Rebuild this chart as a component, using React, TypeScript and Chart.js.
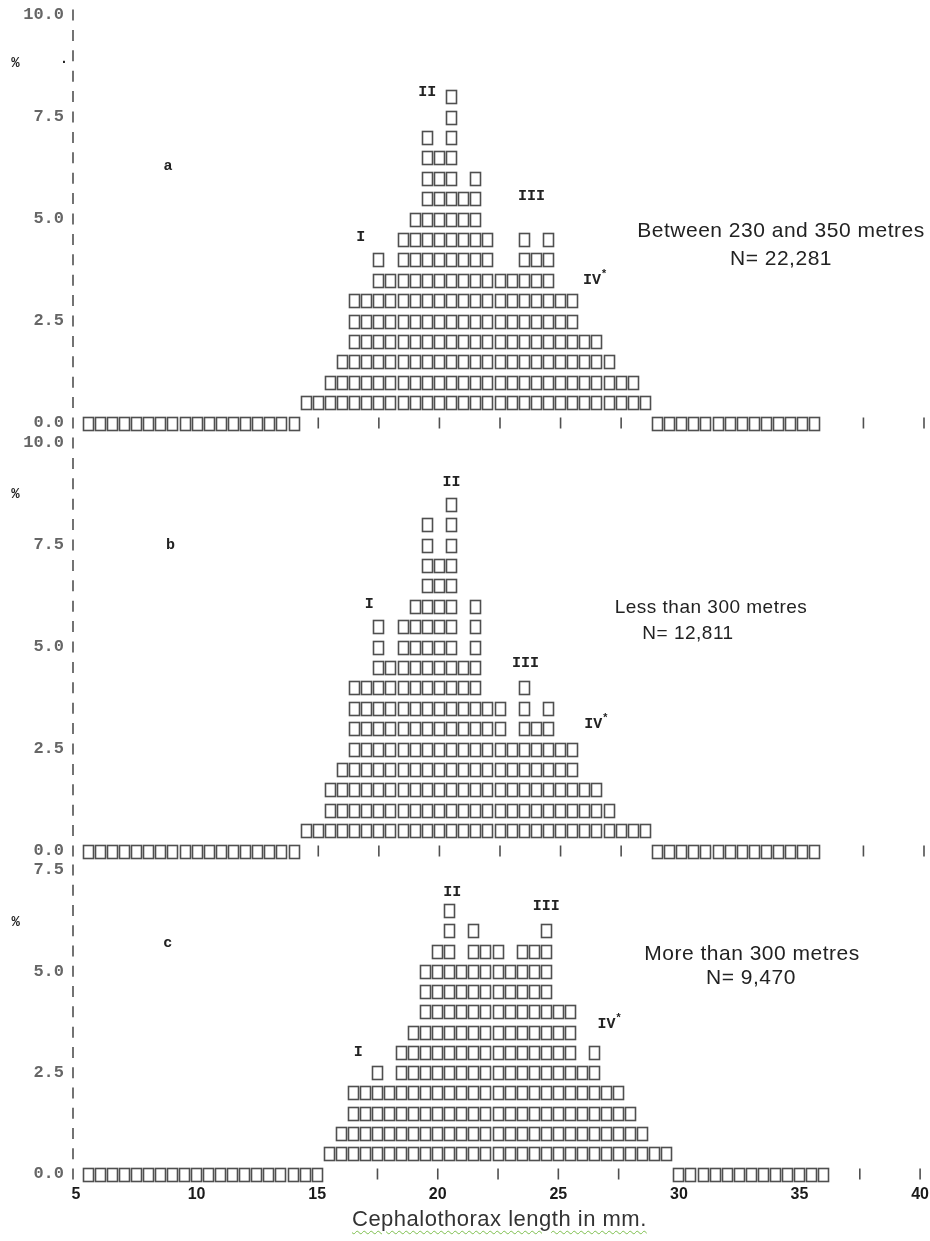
import React, { useEffect, useRef } from "react";
import { Chart, registerables } from "chart.js";

Chart.register(...registerables);

// Length classes (cephalothorax length, mm, class mid-points) and share of the sample (%)
const LENGTHS_A = [14.5, 15, 15.5, 16, 16.5, 17, 17.5, 18, 18.5, 19, 19.5, 20, 20.5, 21, 21.5, 22, 22.5, 23, 23.5, 24, 24.5, 25, 25.5, 26, 26.5, 27, 27.5, 28, 28.5];
const PERCENT_A = [0.5, 0.5, 1.0, 1.5, 3.0, 3.0, 4.0, 3.5, 4.5, 5.0, 7.0, 6.5, 8.0, 5.5, 6.0, 4.5, 3.5, 3.5, 4.5, 4.0, 4.5, 3.0, 3.0, 2.0, 2.0, 1.5, 1.0, 1.0, 0.5];
// classes present at less than one print step (shown on the base line)
const TRACE_A = [5.5, 6, 6.5, 7, 7.5, 8, 8.5, 9, 9.5, 10, 10.5, 11, 11.5, 12, 12.5, 13, 13.5, 14, 29, 29.5, 30, 30.5, 31, 31.5, 32, 32.5, 33, 33.5, 34, 34.5, 35, 35.5];

const LENGTHS_B = [14.5, 15, 15.5, 16, 16.5, 17, 17.5, 18, 18.5, 19, 19.5, 20, 20.5, 21, 21.5, 22, 22.5, 23, 23.5, 24, 24.5, 25, 25.5, 26, 26.5, 27, 27.5, 28, 28.5];
const PERCENT_B = [0.5, 0.5, 1.5, 2.0, 4.0, 4.0, 5.5, 4.5, 5.5, 6.0, 8.0, 7.0, 8.5, 4.5, 6.0, 3.5, 3.5, 2.5, 4.0, 3.0, 3.5, 2.5, 2.5, 1.5, 1.5, 1.0, 0.5, 0.5, 0.5];
const TRACE_B = [5.5, 6, 6.5, 7, 7.5, 8, 8.5, 9, 9.5, 10, 10.5, 11, 11.5, 12, 12.5, 13, 13.5, 14, 29, 29.5, 30, 30.5, 31, 31.5, 32, 32.5, 33, 33.5, 34, 34.5, 35, 35.5];

const LENGTHS_C = [15.5, 16, 16.5, 17, 17.5, 18, 18.5, 19, 19.5, 20, 20.5, 21, 21.5, 22, 22.5, 23, 23.5, 24, 24.5, 25, 25.5, 26, 26.5, 27, 27.5, 28, 28.5, 29, 29.5];
const PERCENT_C = [0.5, 1.0, 2.0, 2.0, 2.5, 2.0, 3.0, 3.5, 5.0, 5.5, 6.5, 5.0, 6.0, 5.5, 5.5, 5.0, 5.5, 5.5, 6.0, 4.0, 4.0, 2.5, 3.0, 2.0, 2.0, 1.5, 1.0, 0.5, 0.5];
const TRACE_C = [5.5, 6, 6.5, 7, 7.5, 8, 8.5, 9, 9.5, 10, 10.5, 11, 11.5, 12, 12.5, 13, 13.5, 14, 14.5, 15, 30, 30.5, 31, 31.5, 32, 32.5, 33, 33.5, 34, 34.5, 35, 35.5, 36];

// printed tick positions along the length axis
const LENGTH_TICKS = [5, 7.5, 10, 12.5, 15, 17.5, 20, 22.5, 25, 27.5, 30, 32.5, 35, 37.5, 40];

// one printed character per half percent
const STEP = 0.5;
const INK = "rgba(60,60,60,0.9)";
const MONO = '"Liberation Mono", "DejaVu Sans Mono", monospace';
const SANS = '"Liberation Sans", Arial, sans-serif';
const PAD = 25;

type Mark = { text: string; at: [number, number]; size?: number; sup?: string };

interface PanelSpec {
  key: string;
  top: number;
  height: number;
  padBottom: number;
  yMax: number;
  lengths: number[];
  percent: number[];
  trace: number[];
  marks: Mark[];
  showX: boolean;
}

const PANELS: PanelSpec[] = [
  {
    key: "a",
    top: -10,
    height: 458,
    padBottom: PAD,
    yMax: 10,
    lengths: LENGTHS_A,
    percent: PERCENT_A,
    trace: TRACE_A,
    showX: false,
    marks: [
      { text: "%", at: [2.5, 8.8], size: 14 },
      { text: ".", at: [4.5, 8.9], size: 14 },
      { text: "a", at: [8.8, 6.3] },
      { text: "I", at: [16.75, 4.55] },
      { text: "II", at: [19.5, 8.1] },
      { text: "III", at: [23.8, 5.55] },
      { text: "IV", at: [26.3, 3.5], sup: "*" },
    ],
  },
  {
    key: "b",
    top: 418,
    height: 458,
    padBottom: PAD,
    yMax: 10,
    lengths: LENGTHS_B,
    percent: PERCENT_B,
    trace: TRACE_B,
    showX: false,
    marks: [
      { text: "%", at: [2.5, 8.75], size: 14 },
      { text: "b", at: [8.9, 7.5] },
      { text: "I", at: [17.1, 6.05] },
      { text: "II", at: [20.5, 9.05] },
      { text: "III", at: [23.55, 4.6] },
      { text: "IV", at: [26.35, 3.1], sup: "*" },
    ],
  },
  {
    key: "c",
    top: 845,
    height: 396,
    padBottom: 35,
    yMax: 7.5,
    lengths: LENGTHS_C,
    percent: PERCENT_C,
    trace: TRACE_C,
    showX: true,
    marks: [
      { text: "%", at: [2.5, 6.2], size: 14 },
      { text: "c", at: [8.8, 5.7] },
      { text: "I", at: [16.7, 3.0] },
      { text: "II", at: [20.6, 6.95] },
      { text: "III", at: [24.5, 6.6] },
      { text: "IV", at: [27.0, 3.7], sup: "*" },
    ],
  },
];

// depth notes: each line with its own centre
const NOTES = [
  { size: 21, lh: 28, lines: [{ t: "Between 230 and 350 metres", cx: 781, cy: 230 }, { t: "N= 22,281", cx: 781, cy: 258 }] },
  { size: 19, lh: 26, lines: [{ t: "Less than 300 metres", cx: 711, cy: 607 }, { t: "N= 12,811", cx: 688, cy: 633 }] },
  { size: 21, lh: 26, lines: [{ t: "More than 300 metres", cx: 752, cy: 953 }, { t: "N= 9,470", cx: 751, cy: 977 }] },
];

function vbar(ctx: CanvasRenderingContext2D, x: number, y: number, h: number) {
  ctx.beginPath();
  ctx.moveTo(x, y - h / 2);
  ctx.lineTo(x, y + h / 2);
  ctx.stroke();
}

function makeTypewriter(spec: PanelSpec) {
  return {
    id: "typewriter",
    afterDatasetsDraw(chart: any) {
      const { ctx, chartArea } = chart;
      const xs = chart.scales.x;
      const ys = chart.scales.y;
      const y0 = ys.getPixelForValue(0);
      const rowPx = Math.abs(y0 - ys.getPixelForValue(STEP));
      const boxH = Math.round(rowPx * 0.62);

      ctx.save();
      ctx.strokeStyle = INK;
      ctx.lineWidth = 1.6;

      // printed vertical axis, one bar per step
      const axisX = chartArea.left - 3;
      for (let v = 0; v <= spec.yMax + 1e-9; v += STEP) {
        vbar(ctx, axisX, ys.getPixelForValue(v), 11);
      }

      // stacked character boxes for every length class
      chart.data.datasets.forEach((ds: any, di: number) => {
        const meta = chart.getDatasetMeta(di);
        meta.data.forEach((el: any, i: number) => {
          const value = ds.data[i].y;
          const w = Math.round(el.width);
          const count = ds.trace ? 1 : Math.round(value / STEP);
          for (let k = 0; k < count; k++) {
            const level = ds.trace ? 0 : (k + 1) * STEP;
            const cy = ys.getPixelForValue(level);
            ctx.strokeRect(Math.round(el.x - w / 2) + 0.5, Math.round(cy - boxH / 2) + 0.5, w - 1, boxH);
          }
        });
      });

      // tick bars along the base line where no trace class is printed
      LENGTH_TICKS.forEach((t) => {
        if (t === xs.min || spec.trace.includes(t)) return;
        vbar(ctx, xs.getPixelForValue(t), y0, 11);
      });

      // cohort numerals, panel letter and unit
      ctx.fillStyle = "#222";
      ctx.textAlign = "center";
      ctx.textBaseline = "middle";
      spec.marks.forEach((m) => {
        const px = xs.getPixelForValue(m.at[0]);
        const py = ys.getPixelForValue(m.at[1]);
        ctx.font = `bold ${m.size ?? 15}px ${MONO}`;
        ctx.fillText(m.text, px, py);
        if (m.sup) {
          const w = ctx.measureText(m.text).width;
          ctx.font = `bold 11px ${MONO}`;
          ctx.fillText(m.sup, px + w / 2 + 3, py - 6);
        }
      });
      ctx.restore();
    },
  };
}

function makeConfig(spec: PanelSpec): any {
  const bar = {
    backgroundColor: "rgba(0,0,0,0)",
    borderWidth: 0,
    grouped: false,
    barPercentage: 0.88,
    categoryPercentage: 1,
  };
  const xScale: any = {
    type: "linear",
    min: 5,
    max: 40,
    offset: false,
    display: spec.showX,
    grid: { display: false, drawTicks: false },
    border: { display: false },
    ticks: {
      stepSize: 5,
      padding: 11,
      color: "#1a1a1a",
      font: { family: '"Liberation Sans Narrow", ' + SANS, size: 16, weight: "bold" },
      callback: (v: number) => String(v),
    },
  };
  if (spec.showX) {
    xScale.afterFit = (s: any) => {
      s.height = 32;
    };
  }
  return {
    type: "bar",
    data: {
      datasets: [
        { ...bar, data: spec.lengths.map((l, i) => ({ x: l, y: spec.percent[i] })) },
        { ...bar, trace: true, data: spec.trace.map((l) => ({ x: l, y: 0 })) },
      ],
    },
    options: {
      responsive: false,
      animation: false,
      events: [],
      layout: { padding: { left: 0, right: 16, top: PAD, bottom: spec.padBottom } },
      plugins: { legend: { display: false }, tooltip: { enabled: false } },
      scales: {
        x: xScale,
        y: {
          min: 0,
          max: spec.yMax,
          grid: { display: false, drawTicks: false },
          border: { display: false },
          ticks: {
            stepSize: 2.5,
            padding: 12,
            color: "#666",
            font: { family: MONO, size: 17, weight: "bold" },
            callback: (v: number) => Number(v).toFixed(1),
          },
          afterFit: (s: any) => {
            s.width = 76;
          },
        },
      },
    },
    plugins: [makeTypewriter(spec)],
  };
}

function Panel({ spec }: { spec: PanelSpec }) {
  const ref = useRef<HTMLCanvasElement>(null);
  useEffect(() => {
    const chart = new Chart(ref.current as HTMLCanvasElement, makeConfig(spec));
    return () => chart.destroy();
  }, [spec]);
  return (
    <canvas
      ref={ref}
      width={940}
      height={spec.height}
      style={{ position: "absolute", left: 0, top: spec.top, width: 940, height: spec.height }}
    />
  );
}

export default function App() {
  return (
    <div
      style={{
        position: "absolute",
        left: 0,
        top: 0,
        width: 930,
        height: 1241,
        overflow: "hidden",
        background: "#fff",
      }}
    >
      {PANELS.map((p) => (
        <Panel key={p.key} spec={p} />
      ))}
      {NOTES.map((n, i) =>
        n.lines.map((line) => (
          <div
            key={`${i}-${line.t}`}
            style={{
              position: "absolute",
              left: line.cx - 200,
              width: 400,
              top: line.cy - n.lh / 2,
              textAlign: "center",
              fontFamily: SANS,
              fontSize: n.size,
              letterSpacing: "0.5px",
              lineHeight: `${n.lh}px`,
              color: "#222",
            }}
          >
            {line.t}
          </div>
        ))
      )}
      <div
        style={{
          position: "absolute",
          left: 352,
          top: 1206,
          fontFamily: SANS,
          fontSize: 22,
          letterSpacing: "0.5px",
          lineHeight: "26px",
          color: "#333",
          whiteSpace: "nowrap",
          textDecorationLine: "underline",
          textDecorationStyle: "wavy",
          textDecorationColor: "#7dbf4e",
          textDecorationThickness: "1px",
          textUnderlineOffset: "4px",
        }}
      >
        Cephalothorax length in mm.
      </div>
    </div>
  );
}
